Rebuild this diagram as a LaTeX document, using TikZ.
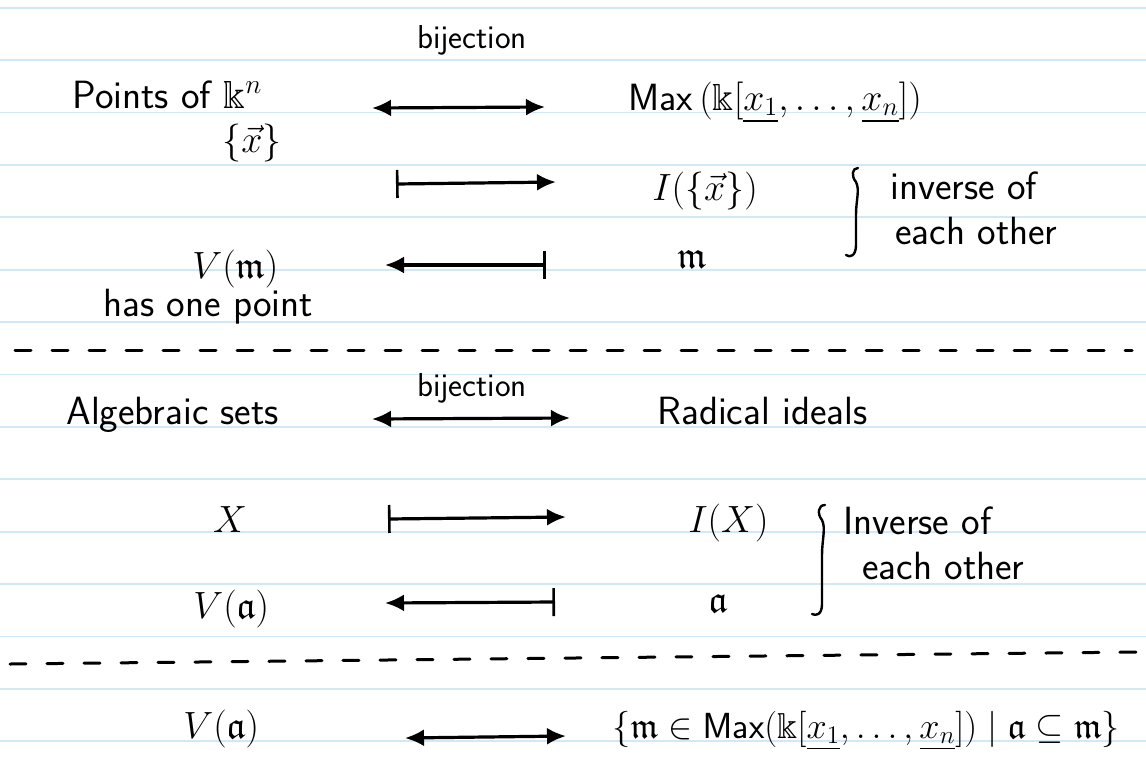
\documentclass[tikz,border=0pt]{standalone}
\usepackage{amssymb}
\usetikzlibrary{arrows.meta}
\begin{document}
\begin{tikzpicture}[x=1pt,y=-1pt,
  txt/.style={inner sep=0pt,font=\sffamily\huge,scale=1.9},
  mth/.style={inner sep=0pt,font=\sffamily\huge,scale=1.83},
  small/.style={inner sep=0pt,font=\sffamily\huge,scale=1.6},
  ink/.style={line width=3.2pt,black,line cap=round},
  tip/.tip={Latex[length=19pt,width=17pt]},
  dbl/.style={ink,tip-tip},
  mapsto/.style={ink,{Bar[width=28pt,line width=2.6pt]}-tip},
  mapsfrom/.style={ink,tip-{Bar[width=28pt,line width=2.6pt]}},
  ruling/.style={line width=1.8pt,color=rule},
  sep/.style={line width=3pt,dash pattern=on 16pt off 21pt,line cap=round},
  bracestroke/.style={line width=2.4pt,line cap=round,line join=round}]
\definecolor{rule}{HTML}{D0E8F8}
\fill[white] (0,0) rectangle (1146,756);
\useasboundingbox (0,0) rectangle (1146,756);
% ruled paper
\foreach \k in {0,...,14}{\draw[ruling] (0,{7.6+52.4*\k}) -- (1146,{7.6+52.4*\k});}

% ---- first block
\node[small,anchor=base] (bij1) at (472,48) {bijection};
\node[txt,anchor=base west] (pts) at (72,108) {Points of $\Bbbk^n$};
\node[mth,anchor=base] (ptx) at (252,152) {$\{\vec{x}\}$};
\node[mth,anchor=base west] (max1) at (628,110) {Max$\,(\Bbbk[\underline{x_1},\ldots,\underline{x_n}])$};
\coordinate (a1l) at (372,108); \coordinate (a1r) at (545,107);
\draw[dbl] (a1l) -- (a1r);

\node[mth,anchor=base west] (I1) at (652,200) {$I(\{\vec{x}\})$};
\coordinate (a2l) at (396,184); \coordinate (a2r) at (556,182);
\draw[mapsto] (a2l) -- (a2r);
\node[txt,anchor=base west] (inv1a) at (890,199) {inverse of};
\node[txt,anchor=base west] (inv1b) at (895,244) {each other};
\coordinate (br1t) at (858,168); \coordinate (br1b) at (846,255);
\draw[bracestroke] (br1t) .. controls (852,168) and (851,176) .. (856,182)
  .. controls (860,190) and (856,200) .. (856,215) -- (856,245)
  .. controls (856,256) and (850,258) .. (br1b);

\node[mth,anchor=base west] (V1) at (192,278) {$V(\mathfrak{m})$};
\coordinate (a3l) at (385,265); \coordinate (a3r) at (546,265);
\draw[mapsfrom] (a3l) -- (a3r);
\node[mth,anchor=base] (m1) at (692,268) {$\mathfrak{m}$};
\node[txt,anchor=base west] (hop) at (103,316) {has one point};

\coordinate (d1l) at (15,350); \coordinate (d1r) at (1132,350);
\draw[sep] (d1l) -- (d1r);

% ---- second block
\node[small,anchor=base] (bij2) at (472,396) {bijection};
\node[txt,anchor=base west] (alg) at (66,424) {Algebraic sets};
\node[txt,anchor=base west] (rad) at (657,424) {Radical ideals};
\coordinate (b1l) at (372,419); \coordinate (b1r) at (570,418);
\draw[dbl] (b1l) -- (b1r);

\node[mth,anchor=base] (X) at (230,532) {$X$};
\node[mth,anchor=base west] (IX) at (688,532) {$I(X)$};
\coordinate (b2l) at (388,519); \coordinate (b2r) at (566,517);
\draw[mapsto] (b2l) -- (b2r);
\node[txt,anchor=base west] (inv2a) at (843,534) {Inverse of};
\node[txt,anchor=base west] (inv2b) at (862,579) {each other};
\coordinate (br2t) at (825,505); \coordinate (br2b) at (812,614);
\draw[bracestroke] (br2t) .. controls (818,505) and (817,514) .. (822,520)
  .. controls (826,528) and (822,540) .. (822,555) -- (822,604)
  .. controls (822,615) and (816,616) .. (br2b);

\node[mth,anchor=base west] (Va) at (193,618) {$V(\mathfrak{a})$};
\coordinate (b3l) at (385,603); \coordinate (b3r) at (555,602);
\draw[mapsfrom] (b3l) -- (b3r);
\node[mth,anchor=base] (a1) at (718,612) {$\mathfrak{a}$};

\coordinate (d2l) at (10,664); \coordinate (d2r) at (1140,652);
\draw[sep] (d2l) -- (d2r);

% ---- third block
\node[mth,anchor=base west] (Va2) at (183,738) {$V(\mathfrak{a})$};
\coordinate (c1l) at (405,738); \coordinate (c1r) at (566,736);
\draw[dbl] (c1l) -- (c1r);
\node[inner sep=0pt,font=\sffamily\huge,scale=1.75,anchor=base west] (set) at (612,738) {$\{\mathfrak{m}\in\mathsf{Max}(\Bbbk[\underline{x_1},\ldots,\underline{x_n}])\mid\mathfrak{a}\subseteq\mathfrak{m}\}$};
\end{tikzpicture}
\end{document}
